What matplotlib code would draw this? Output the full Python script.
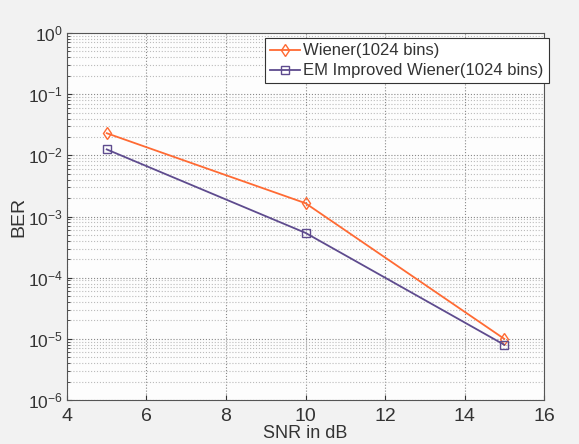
import numpy as np
import matplotlib.pyplot as plt

plt.rc('font', family='Liberation Sans', size=12)

snr = [5, 10, 15]
ber_wiener = [2.3e-2, 1.65e-3, 1.0e-5]
ber_em = [1.25e-2, 5.4e-4, 8.0e-6]

fig = plt.figure(figsize=(5.79, 4.44), dpi=100, facecolor="#f2f2f2")
ax = fig.add_axes([0.1157, 0.099, 0.8239, 0.8267])
ax.set_facecolor("#fdfdfd")

ax.semilogy(snr, ber_wiener, color="#ff6a33", marker="d", markersize=6,
            markerfacecolor="none", linewidth=1.3, label="Wiener(1024 bins)")
ax.semilogy(snr, ber_em, color="#5e4b8e", marker="s", markersize=6,
            markerfacecolor="none", linewidth=1.3, label="EM Improved Wiener(1024 bins)")

ax.set_xlim([4, 16])
ax.set_ylim([1e-6, 1])
ax.set_xticks(np.arange(4, 17, 2))
ax.grid(True, which="major", linestyle=":", color="#888888", linewidth=0.8)
ax.grid(True, which="minor", linestyle=":", color="#bbbbbb", linewidth=0.8)
ax.tick_params(which="both", direction="in", colors="#333333")
ax.tick_params(axis="x", pad=6, labelsize=14)
ax.tick_params(axis="y", pad=3, labelsize=12.5)
for s in ax.spines.values():
    s.set_color("#555555")

ax.set_xlabel("SNR in dB", fontsize=13, color="#333333")
ax.xaxis.set_label_coords(0.5, -0.068)
ax.set_ylabel("BER", fontsize=14, color="#333333")
ax.yaxis.set_label_coords(-0.083, 0.5)

leg = ax.legend(loc="upper right", bbox_to_anchor=(1.01, 0.985), fontsize=12,
                fancybox=False, framealpha=1,
                edgecolor="#333333", handlelength=1.8, handletextpad=0.2,
                borderpad=0.3, labelspacing=0.3, borderaxespad=0.0)
leg.get_frame().set_linewidth(0.8)
for t in leg.get_texts():
    t.set_color("#333333")

plt.savefig("out.png", dpi=100, facecolor=fig.get_facecolor())
